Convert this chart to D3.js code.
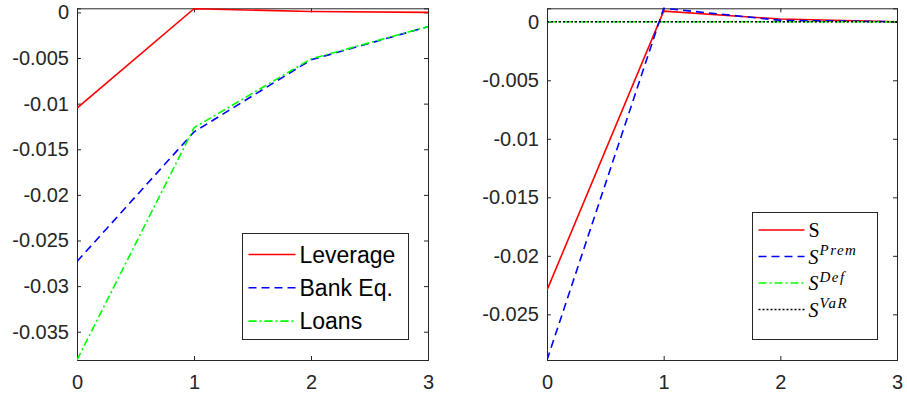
<!DOCTYPE html>
<html lang="en">
<head>
<meta charset="utf-8">
<title>Impulse responses</title>
<script src="https://d3js.org/d3.v7.min.js"></script>
<style>
  body { margin: 0; background: #fff; }
  svg text { font-family: "Liberation Sans", Arial, sans-serif; fill: #262626; }
</style>
</head>
<body>
<script>
// horizons
const periods = [0, 1, 2, 3];

// left panel series
const leverage = [-0.01048, 0.0004, 0.0001, 0.0];
const bankEq   = [-0.0273, -0.0131, -0.0052, -0.00157];
const loans    = [-0.0381, -0.01264, -0.0051, -0.00155];
const leftTicks = [-0.035, -0.03, -0.025, -0.02, -0.015, -0.01, -0.005, 0];

// right panel series
const sTotal = [-0.02293, 0.00091, 0.00023, 0.0];
const sPrem  = [-0.0289, 0.00115, 0.00012, 0.0];
const sDef   = [0, 0, 0, 0];
const sVaR   = [0, 0, 0, 0];
const rightTicks = [-0.025, -0.02, -0.015, -0.01, -0.005, 0];

const xTicks = [0, 1, 2, 3];

const width = 907, height = 398;
const svg = d3.select("body").append("svg")
  .attr("width", width).attr("height", height);

const styles = {
  solid:   { color: "#ff0000", dash: null },
  dashed:  { color: "#0000ff", dash: "8,5" },
  dashdot: { color: "#00ff00", dash: "8,3,2,3" },
  dotted:  { color: "#000000", dash: "2,2" }
};

function drawPanel(opt) {
  const g = svg.append("g");
  const x = d3.scaleLinear().domain([0, 3]).range([opt.left, opt.right]);
  const y = d3.scaleLinear().domain(opt.ydom).range([360, 8.3]);

  // y ticks (inward) left and right
  const yAxisL = d3.axisLeft(y).tickValues(opt.yticks).tickSize(-4)
    .tickFormat(d => String(+d.toFixed(3)));
  const gl = g.append("g").attr("transform", `translate(${opt.left},0)`).call(yAxisL);
  gl.selectAll("text").attr("x", -8).style("font-size", "20px");
  const yAxisR = d3.axisRight(y).tickValues(opt.yticks).tickSize(-4).tickFormat("");
  g.append("g").attr("transform", `translate(${opt.right},0)`).call(yAxisR);

  const xAxisB = d3.axisBottom(x).tickValues(xTicks).tickSize(-4).tickFormat(d3.format("d"));
  const gb = g.append("g").attr("transform", "translate(0,360)").call(xAxisB);
  gb.selectAll("text").attr("y", 15).style("font-size", "20px");
  const xAxisT = d3.axisTop(x).tickValues(xTicks).tickSize(-4).tickFormat("");
  g.append("g").attr("transform", "translate(0,8.3)").call(xAxisT);

  g.selectAll(".domain").attr("stroke", "#262626");
  g.selectAll(".tick line").attr("stroke", "#262626");

  const clipId = "clip" + opt.left;
  g.append("clipPath").attr("id", clipId).append("rect")
    .attr("x", opt.left).attr("y", 7).attr("width", opt.right - opt.left).attr("height", 354);

  const line = d3.line().x((d, i) => x(periods[i])).y(d => y(d));
  opt.series.forEach(s => {
    const st = styles[s.style];
    g.append("path").datum(s.values)
      .attr("clip-path", `url(#${clipId})`)
      .attr("d", line).attr("fill", "none")
      .attr("stroke", st.color).attr("stroke-width", 1.6)
      .attr("stroke-dasharray", st.dash);
  });

  // legend
  const lg = g.append("g");
  const L = opt.legend;
  lg.append("rect").attr("x", L.x).attr("y", L.y).attr("width", L.w).attr("height", L.h)
    .attr("fill", "#fff").attr("stroke", "#262626").attr("stroke-width", 1);
  opt.series.forEach((s, i) => {
    const st = styles[s.style];
    const cy = L.y + L.first + i * L.step;
    lg.append("line").attr("x1", L.x + L.lx1).attr("x2", L.x + L.lx2)
      .attr("y1", cy).attr("y2", cy)
      .attr("stroke", st.color).attr("stroke-width", 1.6)
      .attr("stroke-dasharray", st.dash);
    L.label(lg, s, L.x + L.tx, cy);
  });
}

drawPanel({
  left: 77, right: 428, ydom: [-0.0381, 0.00045], yticks: leftTicks,
  series: [
    { name: "Leverage", values: leverage, style: "solid" },
    { name: "Bank Eq.", values: bankEq, style: "dashed" },
    { name: "Loans", values: loans, style: "dashdot" }
  ],
  legend: {
    x: 242.5, y: 233.5, w: 166, h: 106, first: 21, step: 33.3,
    lx1: 6, lx2: 53, tx: 57,
    label: (lg, s, tx, cy) => lg.append("text").attr("x", tx).attr("y", cy + 8)
      .style("font-size", "23px").style("fill", "#000").text(s.name)
  }
});

drawPanel({
  left: 547, right: 897, ydom: [-0.0289, 0.00115], yticks: rightTicks,
  series: [
    { name: "S", sup: null, values: sTotal, style: "solid" },
    { name: "S", sup: "Prem", values: sPrem, style: "dashed" },
    { name: "S", sup: "Def", values: sDef, style: "dashdot" },
    { name: "S", sup: "VaR", values: sVaR, style: "dotted" }
  ],
  legend: {
    x: 752.5, y: 212.5, w: 125, h: 127, first: 17.5, step: 26.5,
    lx1: 6, lx2: 52, tx: 56,
    label: (lg, s, tx, cy) => {
      const t = lg.append("text").attr("x", tx).attr("y", cy + 7)
        .style("font-family", "'Liberation Serif', 'DejaVu Serif', serif")
        .style("font-size", "20px").style("fill", "#000");
      if (!s.sup) {
        t.text(s.name);
      } else {
        t.append("tspan").style("font-style", "italic").text(s.name);
        t.append("tspan").attr("dy", -8.5).attr("dx", 1).style("font-style", "italic")
          .style("font-size", "15px").style("letter-spacing", "1.5px").text(s.sup);
      }
    }
  }
});
</script>
</body>
</html>
